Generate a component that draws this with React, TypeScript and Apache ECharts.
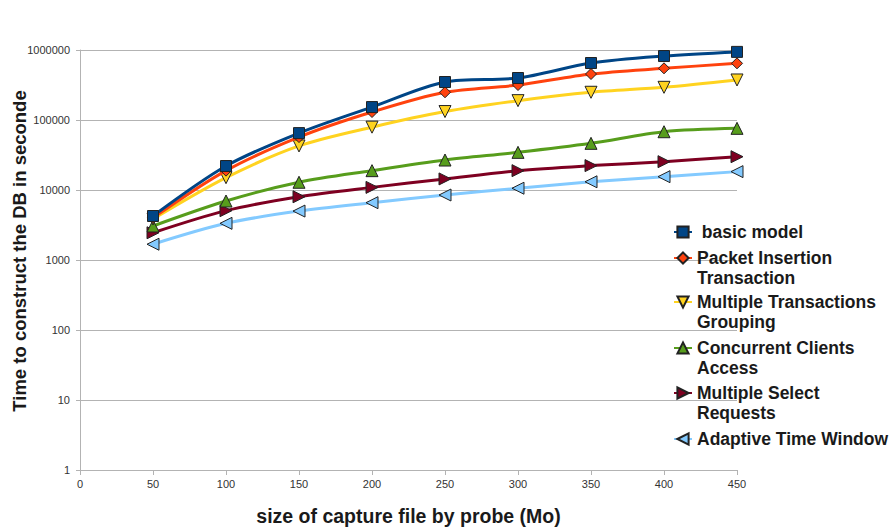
import React, { useEffect, useRef } from "react";
import * as echarts from "echarts";

const xValues = [50, 100, 150, 200, 250, 300, 350, 400, 450];
const basicModel = [4250, 22000, 65000, 153000, 349000, 398000, 652000, 820000, 940000];
const packetInsertion = [4000, 18900, 57000, 130000, 249000, 316000, 454000, 547000, 645000];
const multipleTransactions = [3850, 15000, 42600, 79000, 132000, 189000, 249000, 293000, 373000];
const concurrentClients = [3060, 6960, 12900, 18900, 26800, 34500, 46400, 68000, 76000];
const multipleSelect = [2450, 5070, 8000, 10900, 14400, 18900, 22300, 25400, 29900];
const adaptiveWindow = [1680, 3340, 5000, 6590, 8480, 10600, 13100, 15500, 18300];

const seriesNames = [
  "basic model",
  "Packet Insertion Transaction",
  "Multiple Transactions Grouping",
  "Concurrent Clients Access",
  "Multiple Select Requests",
  "Adaptive Time Window",
];
const legendLabels = [
  " basic model",
  "Packet Insertion\nTransaction",
  "Multiple Transactions\nGrouping",
  "Concurrent Clients\nAccess",
  "Multiple Select\nRequests",
  "Adaptive Time Window",
];
const seriesValues = [
  basicModel,
  packetInsertion,
  multipleTransactions,
  concurrentClients,
  multipleSelect,
  adaptiveWindow,
];
const colors = ["#004586", "#ff420e", "#ffd320", "#579d1c", "#7e0021", "#83caff"];
const symbols = ["rect", "diamond", "triangle", "triangle", "triangle", "triangle"];
const rotations = [0, 0, 180, 0, -90, 90];
const symbolSizes = [11, 11, 12, 12, 12, 12];

const FONT = "'Liberation Sans', Arial, sans-serif";

export default function App() {
  const ref = useRef<HTMLDivElement>(null);
  useEffect(() => {
    if (!ref.current) return;
    const chart = echarts.init(ref.current, null, { renderer: "svg" });
    const legendTops = [222, 228, 272, 318, 363, 429];
    const legends = seriesNames.map((name, i) => {
      const twoLine = legendLabels[i].includes("\n");
      return {
        show: true,
        orient: "vertical",
        left: 673,
        top: legendTops[i],
        padding: 0,
        itemWidth: 18,
        itemHeight: 14,
        selectedMode: false,
        data: [name],
        formatter: () => (twoLine ? "{e|}\n" + legendLabels[i] : legendLabels[i]),
        textStyle: {
          fontFamily: FONT,
          fontSize: 17.5,
          fontWeight: "bold",
          color: "#1a1a1a",
          lineHeight: 20,
          rich: { e: { height: 20, lineHeight: 20, fontSize: 17.5 } },
        },
      };
    });
    const series = seriesNames.map((name, i) => ({
      name,
      type: "line",
      data: xValues.map((x, j) => [x, seriesValues[i][j]]),
      smooth: 0.3,
      symbol: symbols[i],
      symbolSize: symbolSizes[i],
      symbolRotate: rotations[i],
      showAllSymbol: true,
      lineStyle: { color: colors[i], width: 3 },
      itemStyle: { color: colors[i], borderColor: "#222", borderWidth: 1 },
      z: 10 - i,
    }));
    chart.setOption({
      animation: false,
      backgroundColor: "#ffffff",
      grid: { left: 80, right: 152, top: 50, bottom: 58, outerBoundsMode: "none" },
      legend: legends,
      xAxis: {
        type: "value",
        min: 0,
        max: 450,
        interval: 50,
        name: "size of capture file by probe (Mo)",
        nameLocation: "middle",
        nameGap: 36,
        nameMoveOverlap: false,
        nameTextStyle: { fontFamily: FONT, fontSize: 19.5, fontWeight: "bold", color: "#1a1a1a" },
        axisLine: { show: true, lineStyle: { color: "#b3b3b3", width: 1 } },
        axisTick: { show: true, length: 5, lineStyle: { color: "#b3b3b3" } },
        axisLabel: { fontFamily: FONT, fontSize: 11, color: "#333", margin: 8 },
        splitLine: { show: false },
      },
      yAxis: {
        type: "log",
        logBase: 10,
        min: 1,
        max: 1000000,
        name: "Time to construct the DB in seconde",
        nameLocation: "middle",
        nameRotate: 90,
        nameGap: 51,
        nameMoveOverlap: false,
        nameTextStyle: {
          fontFamily: FONT,
          fontSize: 18.5,
          fontWeight: "bold",
          color: "#1a1a1a",
          padding: [0, 0, 0, 18],
        },
        axisLine: { show: true, lineStyle: { color: "#b3b3b3", width: 1 } },
        axisTick: { show: true, length: 4, lineStyle: { color: "#b3b3b3" } },
        axisLabel: {
          fontFamily: FONT,
          fontSize: 11,
          color: "#333",
          margin: 10,
          formatter: (v: number) => String(Math.round(v)),
        },
        splitLine: { show: true, lineStyle: { color: "#b3b3b3", width: 1 } },
      },
      series,
    });
    return () => chart.dispose();
  }, []);
  return (
    <div
      ref={ref}
      style={{ position: "fixed", left: 0, top: 0, width: 889, height: 528, background: "#fff" }}
    />
  );
}
